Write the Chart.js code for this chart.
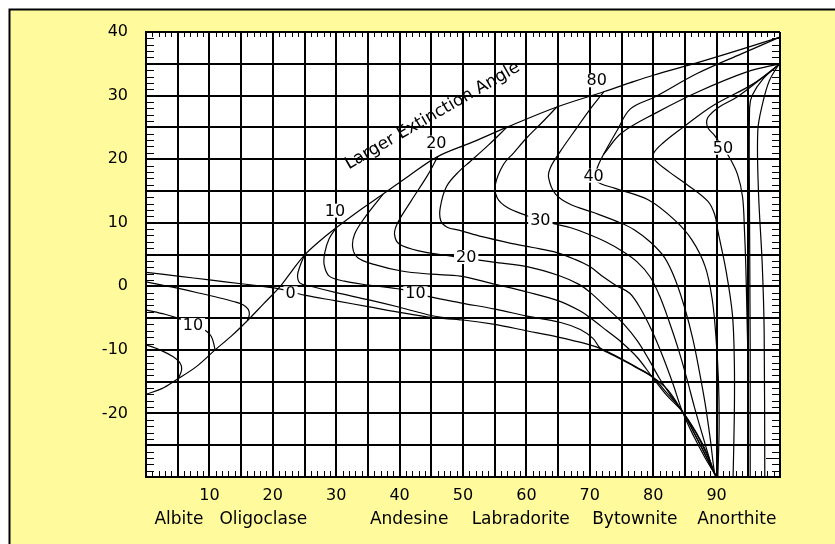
<!DOCTYPE html>
<html>
<head>
<meta charset="utf-8">
<script src="https://cdn.jsdelivr.net/npm/chart.js@4.4.0/dist/chart.umd.min.js"></script>
<style>
  html, body { margin: 0; padding: 0; background: #ffffff; }
</style>
</head>
<body>
<canvas id="chart" width="835" height="544"></canvas>
<script>
// envelope line ("Larger Extinction Angle")
const envelope = [[0,-17],[2.5,-16.1],[4.8,-14.7],[8,-12.6],[10.9,-10],[13.5,-7.8],[15.9,-5.5],[18.5,-2.8],[21.1,-0.1],[23,2.4],[25,4.9],[27.5,7.2],[30,9.2],[33.5,11.8],[37.4,14.5],[41.5,17.4],[46,20.4],[51.3,22.6],[56.9,25],[64.8,28.2],[72.2,30.6],[76.3,32],[80,33.2],[87.4,35.3],[94,37.3],[100,39.2]];

// small curves on the left (albite side)
const leftLow = [[0,-9.2],[2.2,-10],[4.3,-11.1],[5.4,-12.1],[5.6,-13.2],[5.1,-14.5]];
const left10 = [[0,-3.7],[3,-4.4],[5,-5],[7.5,-6],[9.6,-7.1],[10.3,-7.9],[10.6,-8.7],[10.9,-10]];
const leftHigh = [[0,0.7],[4,-0.1],[8.5,-1.1],[11.5,-1.8],[13.8,-2.4],[15.3,-2.9],[16.1,-3.6],[16.3,-4.4],[16,-5.4]];

// contour curves
const zeroLine = [[0,2.2],[5,1.6],[10,1.0],[15,0.4],[21,-0.4],[25,-1.4],[30,-2.3],[35,-3.2],[40,-4.1],[45,-4.9],[50,-5.3],[55,-6],[60,-7],[65,-8],[69.6,-9.1],[71.7,-9.8],[75,-11.4],[77.5,-12.8],[79.8,-14.2],[82,-16.6],[84.6,-19.7],[86.5,-23.2],[88.2,-26.5],[89.7,-29.5],[89.9,-30]];
const zeroSmall = [[25,4.9],[24.3,3.2],[23.9,1.7],[24.3,0.5],[26,0],[30,-1],[35,-2.1],[40,-3.3],[45,-4.6],[48,-5.1]];
const curve10 = [[30,9.2],[28.9,7.5],[28.2,5.3],[28.1,3.4],[28.9,1.6],[31.3,0.8],[35,0.2],[40.3,-0.5],[44.5,-1.6],[49.6,-2.6],[55.1,-3.6],[60.1,-4.7],[65.4,-5.7],[68.5,-6.8],[70.5,-8.2],[71.7,-9.8],[74,-11],[77,-12.6],[79.8,-14.2],[82.3,-16.3],[84.6,-19.7],[86.7,-23],[88.4,-26.4],[89.7,-29.5],[90,-30]];
const curve15 = [[37.4,14.5],[34.5,10.8],[32.9,8.2],[32.6,6.1],[33.4,4.5],[36.1,3.4],[40.3,2.4],[45,1.9],[49.6,1.6],[55.1,0.3],[60.1,-0.9],[65.1,-2.3],[68.5,-3.9],[70.1,-5],[72.7,-7],[75,-8.8],[77.5,-11.2],[79.8,-14.2],[82,-17],[84.6,-19.7],[86.8,-23],[88.5,-26.3],[89.7,-29.5],[90,-30]];
const curve20 = [[46,20.4],[44.5,17.6],[41.8,13.4],[39.7,10],[39.2,8.2],[40,6.6],[43.4,5.5],[49.2,4.6],[54.8,3.8],[60.1,3.1],[65.1,1.7],[68.3,0.3],[70.1,-1],[72.7,-3.4],[75.4,-6],[77.5,-8.6],[79.3,-11.5],[81,-14.5],[82.8,-17.2],[84.6,-19.7],[86.6,-23.3],[88.3,-26.7],[89.7,-29.5],[90,-30]];
const curve25 = [[56.9,25],[54,22.2],[51.1,19.6],[49.5,18.2],[47.4,15.7],[46.4,12.3],[46.5,10.3],[47.5,9.3],[49.5,8.8],[53,7.8],[57.4,6.8],[61,6.1],[64.8,5.3],[67.5,4.3],[70,3.1],[72.1,1.5],[74.2,0.1],[76.3,-1.1],[78,-3.5],[79.8,-7],[81.5,-11],[83.1,-15.3],[84.6,-19.7],[86.4,-23.6],[88.2,-27],[89.7,-29.5],[90,-30]];
const curve30 = [[64.8,28.2],[62.5,25.8],[60.1,23.4],[58,21],[56.4,19.2],[55.1,16],[55.4,13.9],[57,12.4],[60.1,11.1],[62.2,10.4],[64.5,9.8],[67,9.2],[70,8.1],[72.5,7],[75,5.6],[77.5,3.8],[79.5,1.5],[81,-1.5],[82.5,-5.5],[84,-10],[85.3,-14.5],[86.5,-19],[87.8,-23.5],[89,-27.5],[89.7,-29.5],[90,-30]];
const curve35 = [[72.2,30.6],[70,27.8],[68,25],[65.4,21.3],[63.8,18.7],[63.5,17.1],[64.6,14.5],[66.9,12.9],[70.6,11.6],[74.8,10],[77,8.9],[79.5,7],[81.8,4.5],[83.5,1],[85,-3.5],[86.3,-8.5],[87.3,-13.5],[88.2,-18.5],[89,-24],[89.7,-29.5],[90,-30]];
const curve40 = [[100,39.2],[94,36.6],[87,33.5],[80.3,29.8],[76.4,27.9],[74.3,24.5],[72.2,20.8],[71.4,19.2],[71,18],[71.1,16.5],[74,15.4],[79.2,13.6],[83.4,10.4],[86.1,7.3],[88.2,3.1],[89.3,-2],[89.9,-8],[90.3,-15],[90.4,-22],[90.2,-30]];
const curve40b = [[72.2,20.8],[75,24.1],[80.3,27.2],[87.1,30.6],[95,33.8],[100,35]];
const curve45 = [[100,35],[95.7,31.8],[89.4,28.4],[84.7,25],[81.5,22.5],[80,20.8],[80.3,19.8],[82.5,18],[85.2,16.1],[88.6,13.4],[89.7,11.3],[90.2,8.7],[91.5,2.4],[92.5,-4.5],[92.8,-12],[92.8,-20],[92.6,-30]];
const curve50 = [[100,35],[96.7,32.4],[93.1,29.7],[90.4,28.2],[88.6,26.5],[88.6,25],[89.7,23.7],[91,21.8],[92,20.3],[93.3,17.6],[94.1,14],[94.4,8.7],[94.6,3.4],[94.8,-5],[95,-15],[95,-30]];
const curveHook = [[100,35],[97.3,32.6],[95.6,30],[95.2,28],[95.2,10],[95.3,-10],[95.3,-30]];
const curveRight = [[100,35.2],[98.3,32.3],[97.2,28.5],[96.5,24.5],[96.6,15],[97.2,3.4],[97.5,-7],[97.6,-30]];

const allCurves = [envelope, leftLow, left10, leftHigh, zeroLine, zeroSmall, curve10, curve15, curve20, curve25, curve30, curve35, curve40, curve40b, curve45, curve50, curveHook, curveRight];

// labels on the curves
const curveLabels = [["10",7.4,-6.1],["0",22.8,-1.1],["10",42.5,-1.1],["20",50.5,4.6],["30",62.2,10.4],["40",70.6,17.4],["50",91,21.8]];
const envelopeLabels = [["10",29.8,11.9],["20",45.8,22.6],["80",71.1,32.4]];
const envelopeTitle = "Larger Extinction Angle";

// axis labels
const xTickLabels = [10,20,30,40,50,60,70,80,90];
const yTickLabels = [40,30,20,10,0,-10,-20];
const mineralNames = ["Albite","Oligoclase","Andesine","Labradorite","Bytownite","Anorthite"];
const mineralCenters = [5.2,18.5,41.5,59.1,77.1,93.2];

// longer inside ticks
const topLong = [20,30,45,65,80];
const bottomLong = [20,30,35,45,75];
const leftLong = [35,10,-10];
const rightLong = [35,20,-27];

const FONT = "'DejaVu Sans', sans-serif";

const backgroundPlugin = {
    id: "background",
    beforeDraw(chart) {
        const ctx = chart.ctx;
        const a = chart.chartArea;
        ctx.save();
        ctx.fillStyle = "#ffffff";
        ctx.fillRect(0, 0, chart.width, chart.height);
        ctx.fillStyle = "#fffb9c";
        ctx.fillRect(9, 9, chart.width - 9, chart.height - 9);
        ctx.strokeStyle = "#000";
        ctx.lineWidth = 2;
        ctx.beginPath();
        ctx.moveTo(9.5, chart.height);
        ctx.lineTo(9.5, 9.5);
        ctx.lineTo(chart.width, 9.5);
        ctx.stroke();
        ctx.fillStyle = "#ffffff";
        ctx.fillRect(a.left, a.top, a.right - a.left, a.bottom - a.top);
        ctx.restore();
    }
};

const textPlugin = {
    id: "texts",
    afterDatasetsDraw(chart) {
        const ctx = chart.ctx;
        const x = chart.scales.x;
        const y = chart.scales.y;
        ctx.save();
        ctx.font = "16px " + FONT;
        ctx.textAlign = "center";
        ctx.textBaseline = "middle";
        // labels with a white box cutting the line
        curveLabels.concat(envelopeLabels).forEach(([t, vx, vy]) => {
            const px = x.getPixelForValue(vx);
            const py = y.getPixelForValue(vy);
            const w = ctx.measureText(t).width + 4;
            ctx.fillStyle = "#ffffff";
            ctx.fillRect(px - w / 2, py - 7, w, 14);
            ctx.fillStyle = "#000";
            ctx.fillText(t, px, py + 1);
        });
        // rotated title of the envelope
        ctx.save();
        ctx.font = "17px " + FONT;
        ctx.translate(x.getPixelForValue(45.2), y.getPixelForValue(26.8));
        ctx.rotate(-30 * Math.PI / 180);
        ctx.fillStyle = "#000";
        ctx.fillText(envelopeTitle, 0, 0);
        ctx.restore();
        // mineral names under the axis
        ctx.font = "17px " + FONT;
        ctx.textBaseline = "alphabetic";
        mineralNames.forEach((n, i) => {
            ctx.fillText(n, x.getPixelForValue(mineralCenters[i]), 524);
        });
        ctx.restore();
    }
};

const insideTicksPlugin = {
    id: "insideTicks",
    afterDraw(chart) {
        const ctx = chart.ctx;
        const a = chart.chartArea;
        const x = chart.scales.x;
        const y = chart.scales.y;
        ctx.save();
        ctx.strokeStyle = "#000";
        ctx.lineWidth = 1;
        ctx.beginPath();
        for (let v = 1; v < 100; v++) {
            const px = Math.round(x.getPixelForValue(v)) + 0.5;
            const lt = topLong.includes(v) ? 14 : 5;
            const lb = bottomLong.includes(v) ? 14 : 6;
            ctx.moveTo(px, a.top);
            ctx.lineTo(px, a.top + lt);
            ctx.moveTo(px, a.bottom);
            ctx.lineTo(px, a.bottom - lb);
        }
        for (let v = -29; v < 40; v++) {
            const py = Math.round(y.getPixelForValue(v)) + 0.5;
            const ll = leftLong.includes(v) ? 14 : 8;
            const lr = rightLong.includes(v) ? 14 : 8;
            ctx.moveTo(a.left, py);
            ctx.lineTo(a.left + ll, py);
            ctx.moveTo(a.right, py);
            ctx.lineTo(a.right - lr, py);
        }
        ctx.stroke();
        ctx.restore();
    }
};

const datasets = allCurves.map((c) => ({
    data: c.map(([px, py]) => ({ x: px, y: py })),
    showLine: true,
    borderColor: "#000",
    borderWidth: 1.2,
    pointRadius: 0,
    tension: 0.35,
    fill: false
}));

new Chart(document.getElementById("chart").getContext("2d"), {
    type: "scatter",
    data: { datasets: datasets },
    options: {
        responsive: false,
        animation: false,
        devicePixelRatio: 1,
        layout: { padding: { left: 0, right: 55, top: 32, bottom: 0 } },
        plugins: {
            legend: { display: false },
            tooltip: { enabled: false }
        },
        scales: {
            x: {
                type: "linear",
                min: 0,
                max: 100,
                afterFit: (s) => { s.height = 67; },
                grid: { color: "#000", lineWidth: 2, drawTicks: false },
                border: { color: "#000", width: 2 },
                ticks: {
                    stepSize: 5,
                    autoSkip: false,
                    maxRotation: 0,
                    padding: 9,
                    color: "#000",
                    font: { family: FONT, size: 16 },
                    callback: (v) => xTickLabels.includes(v) ? String(v) : ""
                }
            },
            y: {
                type: "linear",
                min: -30,
                max: 40,
                afterFit: (s) => { s.width = 146; },
                grid: { color: "#000", lineWidth: 2, drawTicks: false },
                border: { color: "#000", width: 2 },
                ticks: {
                    stepSize: 5,
                    autoSkip: false,
                    padding: 18,
                    color: "#000",
                    font: { family: FONT, size: 16 },
                    callback: (v) => yTickLabels.includes(v) ? String(v) : ""
                }
            }
        }
    },
    plugins: [backgroundPlugin, textPlugin, insideTicksPlugin]
});
</script>
</body>
</html>
